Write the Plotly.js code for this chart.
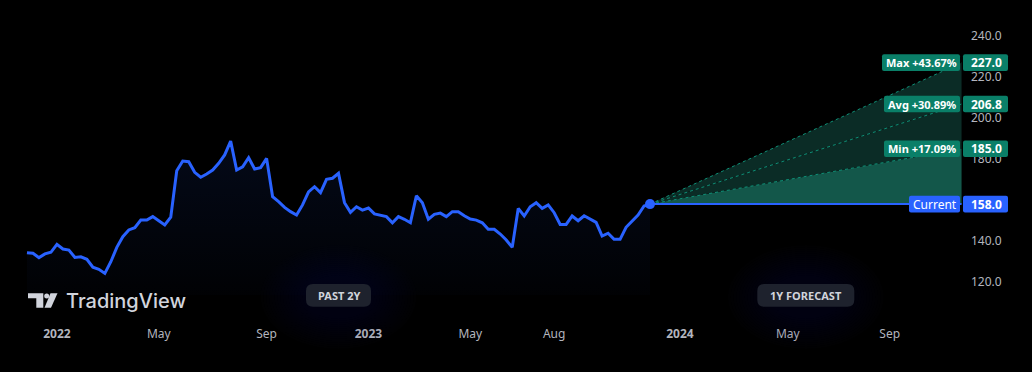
<!DOCTYPE html>
<html>
<head>
<meta charset="utf-8">
<script src="https://cdn.plot.ly/plotly-3.0.1.min.js"></script>
<style>
  html, body { margin: 0; padding: 0; background: #000000; }
  #chart { width: 1032px; height: 372px; }
</style>
</head>
<body>
<div id="chart"></div>
<script>
// ---------------- DATA ----------------
const startWeek = '2021-11-29';          // first weekly bar (Monday)
const priceValues = [
  134.3,134.0,131.9,133.7,134.5,138.4,136.1,135.6,132.0,132.3,
  131.1,127.2,126.2,124.2,129.9,136.9,142.1,145.4,146.5,150.2,
  150.2,151.9,149.9,147.8,151.6,174.3,179.0,178.7,173.5,171.1,
  172.7,174.6,177.9,182.0,188.7,174.6,176.2,180.6,175.1,175.8,
  180.3,161.6,159.2,156.4,154.3,152.7,157.6,164.0,166.5,163.6,
  170.1,170.6,173.0,158.7,154.0,156.7,155.1,156.1,153.2,152.7,
  151.9,148.9,151.9,150.6,148.9,162.1,158.7,150.6,153.0,153.6,
  151.9,154.3,154.3,152.3,150.7,150.2,148.9,145.7,145.7,143.4,
  140.5,136.9,155.9,152.2,156.7,158.7,155.9,157.6,153.8,148.1,
  148.1,152.2,149.9,152.3,150.7,149.1,142.4,143.8,140.8,140.8,
  146.7,149.9,152.7,157.1,158.0
];
const currentLabel = 'Current';
const currentValue = 158.0;
const forecastEndDate = '2024-11-25';
const forecastLabels = ['Max', 'Avg', 'Min'];
const forecastValues = [227.0, 206.8, 185.0];
const forecastPct = ['+43.67%', '+30.89%', '+17.09%'];
const xTickVals = ['2022-01-03','2022-05-02','2022-09-05','2023-01-02','2023-05-01','2023-08-07','2024-01-01','2024-05-06','2024-09-02'];
const xTickText = ['2022','May','Sep','2023','May','Aug','2024','May','Sep'];
const yTickVals = [120,140,180,200,220,240];
const yTickText = ['120.0','140.0','180.0','200.0','220.0','240.0'];
const pastBadge = 'PAST 2Y';
const pastMid = '2022-11-28';
const forecastBadge = '1Y FORECAST';
const forecastMid = '2024-05-27';
const brandText = 'TradingView';

// weekly dates for the price series (category axis of the series)
const priceDates = [];
{
  const d0 = new Date(startWeek + 'T00:00:00Z');
  for (let i = 0; i < priceValues.length; i++) {
    const d = new Date(d0.getTime() + i * 7 * 86400000);
    priceDates.push(d.toISOString().slice(0, 10));
  }
}
const currentDate = priceDates[priceDates.length - 1];

// ---------------- STYLE ----------------
const BLUE = '#2962ff';
const TEAL_BOX = '#0a7f68';
const TEAL_LINE = '#0e8f76';
const WEDGE_LOW = '#13574a';
const WEDGE_HIGH = '#0b2c26';
const FONT = 'Noto Sans, DejaVu Sans, sans-serif';

function rr(x0, y0, x1, y1, r) {
  const top = Math.max(y0, y1), bot = Math.min(y0, y1);
  return `M ${x0 + r},${top} L ${x1 - r},${top} Q ${x1},${top} ${x1},${top - r} ` +
         `L ${x1},${bot + r} Q ${x1},${bot} ${x1 - r},${bot} L ${x0 + r},${bot} ` +
         `Q ${x0},${bot} ${x0},${bot + r} L ${x0},${top - r} Q ${x0},${top} ${x0 + r},${top} Z`;
}

const traces = [];
traces.push({x: [currentDate, forecastEndDate], y: [currentValue, currentValue],
  mode: 'lines', line: {width: 0, color: 'rgba(0,0,0,0)'}, hoverinfo: 'skip'});
const order = [2, 1, 0];
order.forEach((k, i) => {
  traces.push({x: [currentDate, forecastEndDate], y: [currentValue, forecastValues[k]],
    mode: 'lines', fill: 'tonexty', fillcolor: i === 0 ? WEDGE_LOW : WEDGE_HIGH,
    line: {color: TEAL_LINE, width: 1, dash: 'dot'}, hoverinfo: 'skip'});
});
traces.push({x: [currentDate, forecastEndDate], y: [currentValue, currentValue],
  mode: 'lines', line: {color: BLUE, width: 2}, hoverinfo: 'skip'});
traces.push({x: priceDates, y: priceValues, mode: 'lines',
  line: {color: BLUE, width: 3, shape: 'linear'},
  fill: 'tozeroy',
  fillgradient: {type: 'vertical', start: 190, stop: 113,
    colorscale: [[0, 'rgba(41,98,255,0.10)'], [1, 'rgba(41,98,255,0.015)']]},
  hoverinfo: 'skip'});
traces.push({x: [currentDate], y: [priceValues[priceValues.length - 1]], mode: 'markers',
  marker: {color: BLUE, size: 10}, hoverinfo: 'skip'});

// ---------------- SHAPES & ANNOTATIONS ----------------
const shapes = [];
const annotations = [];

function boxShape(xref, xanchor, x0, x1, yref, yanchor, y0, y1, color, r) {
  shapes.push({type: 'path', xref: xref, yref: yref, xsizemode: 'pixel', ysizemode: 'pixel',
    xanchor: xanchor, yanchor: yanchor, path: rr(x0, y0, x1, y1, r),
    fillcolor: color, line: {width: 0}, layer: 'above'});
}

const labelLeft = [-80, -78, -78];
forecastLabels.forEach((lab, k) => {
  const v = forecastValues[k];
  boxShape('paper', 1, labelLeft[k], -2, 'y', v, -8.3, 8.3, TEAL_BOX, 2);
  boxShape('paper', 1, 1, 46, 'y', v, -8.3, 8.3, TEAL_BOX, 2);
  annotations.push({xref: 'paper', x: 1, xshift: (labelLeft[k] - 2) / 2, yref: 'y', y: v,
    text: '<b>' + lab + ' ' + forecastPct[k] + '</b>', showarrow: false,
    xanchor: 'center', yanchor: 'middle', font: {family: FONT, size: 11, color: '#ffffff'}});
  annotations.push({xref: 'paper', x: 1, xshift: 24, yref: 'y', y: v,
    text: '<b>' + v.toFixed(1) + '</b>', showarrow: false,
    xanchor: 'center', yanchor: 'middle', font: {family: FONT, size: 12, color: '#ffffff'}});
});
boxShape('paper', 1, -53, -2, 'y', currentValue, -8.3, 8.3, BLUE, 2);
boxShape('paper', 1, 1, 46, 'y', currentValue, -8.3, 8.3, BLUE, 2);
annotations.push({xref: 'paper', x: 1, xshift: -27.5, yref: 'y', y: currentValue,
  text: currentLabel, showarrow: false, xanchor: 'center', yanchor: 'middle',
  font: {family: FONT, size: 12, color: '#ffffff'}});
annotations.push({xref: 'paper', x: 1, xshift: 24, yref: 'y', y: currentValue,
  text: '<b>' + currentValue.toFixed(1) + '</b>', showarrow: false,
  xanchor: 'center', yanchor: 'middle', font: {family: FONT, size: 12, color: '#ffffff'}});

// badges with soft glow (many faint layers)
function badge(mid, halfW, text) {
  const n = 16;
  for (let i = 0; i < n; i++) {
    const t = i / (n - 1);
    const rx = 78 - t * 42, ry = 52 - t * 30;
    shapes.push({type: 'circle', xref: 'x', yref: 'paper', xsizemode: 'pixel', ysizemode: 'pixel',
      xanchor: mid, yanchor: 0, x0: -rx, x1: rx, y0: -ry - 2, y1: ry - 2,
      fillcolor: 'rgba(80,95,130,0.011)', line: {width: 0}, layer: 'above'});
  }
  boxShape('x', mid, -halfW, halfW, 'paper', 0, -11.7, 11, '#1e222d', 7);
  annotations.push({xref: 'x', x: mid, yref: 'paper', y: 0, yshift: -0.3, text: '<b>' + text + '</b>',
    showarrow: false, xanchor: 'center', yanchor: 'middle',
    font: {family: FONT, size: 11, color: '#d1d4dc'}});
}
badge(pastMid, 32.5, pastBadge);
badge(forecastMid, 48.5, forecastBadge);

// TradingView logo mark
const LOGO = '#d1d4dc';
shapes.push({type: 'path', xref: 'paper', yref: 'paper', xsizemode: 'pixel', ysizemode: 'pixel',
  xanchor: 0, yanchor: 0, path: 'M 28,1.7 L 43.3,1.7 L 43.3,-12.7 L 36.3,-12.7 L 36.3,-3.3 L 28,-3.3 Z',
  fillcolor: LOGO, line: {width: 0}, layer: 'above'});
shapes.push({type: 'circle', xref: 'paper', yref: 'paper', xsizemode: 'pixel', ysizemode: 'pixel',
  xanchor: 0, yanchor: 0, x0: 44.2, x1: 49.2, y0: -3.5, y1: 1.5,
  fillcolor: LOGO, line: {width: 0}, layer: 'above'});
shapes.push({type: 'path', xref: 'paper', yref: 'paper', xsizemode: 'pixel', ysizemode: 'pixel',
  xanchor: 0, yanchor: 0, path: 'M 50.5,1.7 L 57.5,1.7 L 51,-12.7 L 44.5,-12.7 Z',
  fillcolor: LOGO, line: {width: 0}, layer: 'above'});
annotations.push({xref: 'paper', x: 0, xshift: 64, yref: 'paper', y: 0, yshift: -6,
  text: brandText, showarrow: false, xanchor: 'left', yanchor: 'middle',
  font: {family: 'Inter, Roboto, sans-serif', size: 20, color: LOGO, weight: 500}});

const layout = {
  width: 1032, height: 372,
  margin: {l: 0, r: 70, t: 0, b: 77, pad: 0},
  paper_bgcolor: '#000000', plot_bgcolor: '#000000',
  showlegend: false, hovermode: false,
  font: {family: FONT, color: '#b2b5be', size: 12},
  xaxis: {type: 'date', range: ['2021-10-28 12:00', '2024-11-25 12:00'],
    showgrid: false, zeroline: false, showline: false, ticks: '',
    tickmode: 'array', tickvals: xTickVals,
    ticktext: xTickText.map(t => /^\d{4}$/.test(t) ? '<b>' + t + '</b>' : t),
    tickfont: {family: FONT, size: 12, color: '#b2b5be'}, ticklabelstandoff: 30},
  yaxis: {range: [113.66, 257.56], side: 'right', showgrid: false, zeroline: false,
    showline: false, ticks: '', tickmode: 'array', tickvals: yTickVals, ticktext: yTickText,
    tickfont: {family: FONT, size: 12, color: '#b2b5be'}, ticklabelstandoff: 8},
  shapes: shapes,
  annotations: annotations
};

Plotly.newPlot('chart', traces, layout, {displayModeBar: false, staticPlot: true});
</script>
</body>
</html>
